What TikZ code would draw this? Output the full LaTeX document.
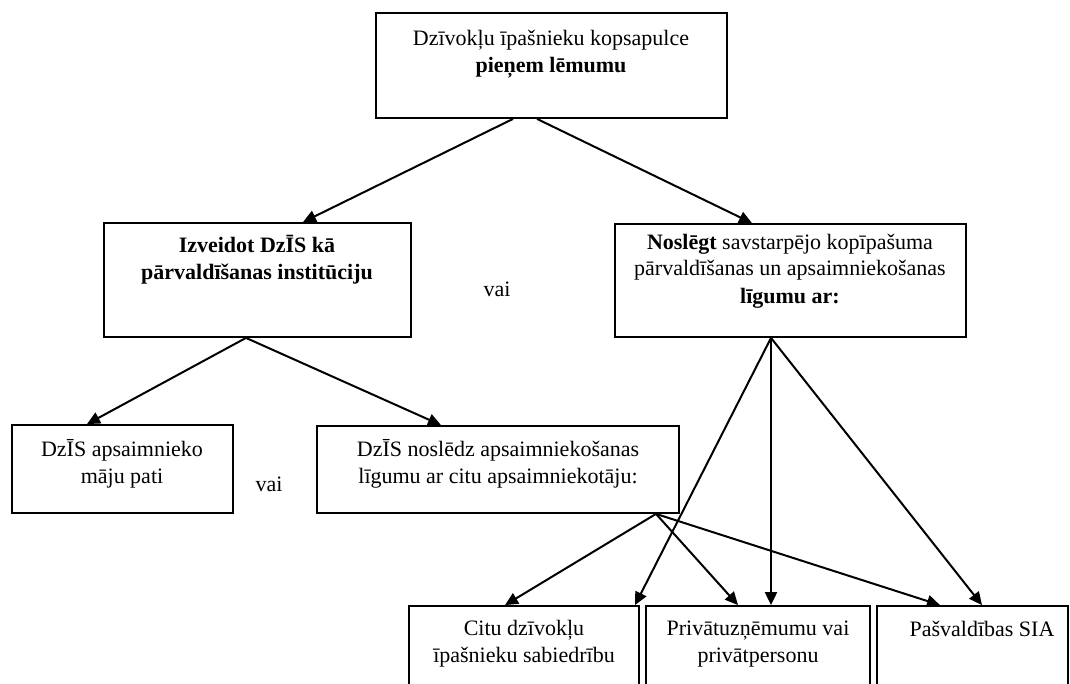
\documentclass[tikz,border=0pt]{standalone}
\usepackage{fontspec}
\setmainfont{Liberation Serif}
\usetikzlibrary{arrows.meta,calc}
\tikzset{
  box/.style={draw,line width=0.9pt,inner sep=0pt},
  txt/.style={align=center,inner sep=0pt,anchor=base,font=\fontsize{11}{13.5}\selectfont},
  arr/.style={line width=1pt,-{Triangle[length=6.5pt,width=6pt]}}
}
\begin{document}
\begin{tikzpicture}[x=0.5pt,y=-0.5pt]
\useasboundingbox (0,0) rectangle (1070,684);
\clip (0,0) rectangle (1070,684);
\node[box,minimum width=175.5pt,minimum height=52.5pt] (sapulce) at (551.5,65.5) {};
\node[box,minimum width=153.5pt,minimum height=57pt] (inst) at (257.5,280) {};
\node[box,minimum width=175.5pt,minimum height=56.5pt] (ligums) at (790.5,280.5) {};
\node[box,minimum width=110.5pt,minimum height=44pt] (pati) at (122.5,469) {};
\node[box,minimum width=181pt,minimum height=43.5pt] (cits) at (498,469.5) {};
\node[box,minimum width=115pt,minimum height=47pt] (sab) at (524,653) {};
\node[box,minimum width=112pt,minimum height=47pt] (priv) at (758,653) {};
\node[box,minimum width=95.5pt,minimum height=47pt] (sia) at (972.5,653) {};
\node[txt] (sapulceT) at (551,73) {Dzīvokļu īpašnieku kopsapulce\\\textbf{pieņem lēmumu}};
\node[txt] (instT) at (257,279) {\textbf{Izveidot DzĪS kā}\\\textbf{pārvaldīšanas institūciju}};
\node[txt] (ligumsT) at (790,303) {\textbf{Noslēgt} savstarpējo kopīpašuma\\pārvaldīšanas un apsaimniekošanas\\\textbf{līgumu ar:}};
\node[txt] (patiT) at (122,483) {DzĪS apsaimnieko\\māju pati};
\node[txt] (citsT) at (498,483) {DzĪS noslēdz apsaimniekošanas\\līgumu ar citu apsaimniekotāju:};
\node[txt] (sabT) at (524,662) {Citu dzīvokļu\\īpašnieku sabiedrību};
\node[txt] (privT) at (758,662) {Privātuzņēmumu vai\\privātpersonu};
\node[txt] (siaT) at (982,636) {Pašvaldības SIA};
\node[txt] (vai1) at (497,296) {vai};
\node[txt] (vai2) at (269,491) {vai};
\draw[arr] ($(sapulce.south)+(-38.5,0)$) -- ($(inst.north)+(45.5,0)$);
\draw[arr] ($(sapulce.south)+(-14.5,0)$) -- ($(ligums.north)+(-38.5,0)$);
\draw[arr] ($(inst.south)+(-11.5,0)$) -- ($(pati.north)+(-35.5,0)$);
\draw[arr] ($(inst.south)+(-11.5,0)$) -- ($(cits.north)+(-57,0)$);
\draw[arr] ($(ligums.south)+(-19.5,0)$) -- ($(sab.north)+(111,0)$);
\draw[arr] ($(ligums.south)+(-19.5,0)$) -- ($(priv.north)+(13,0)$);
\draw[arr] ($(ligums.south)+(-19.5,0)$) -- ($(sia.north)+(9.5,0)$);
\draw[arr] ($(cits.south)+(158,0)$) -- ($(sab.north)+(-19,0)$);
\draw[arr] ($(cits.south)+(158,0)$) -- ($(priv.north)+(-20,0)$);
\draw[arr] ($(cits.south)+(158,0)$) -- ($(sia.north)+(-32.5,0)$);
\end{tikzpicture}
\end{document}
